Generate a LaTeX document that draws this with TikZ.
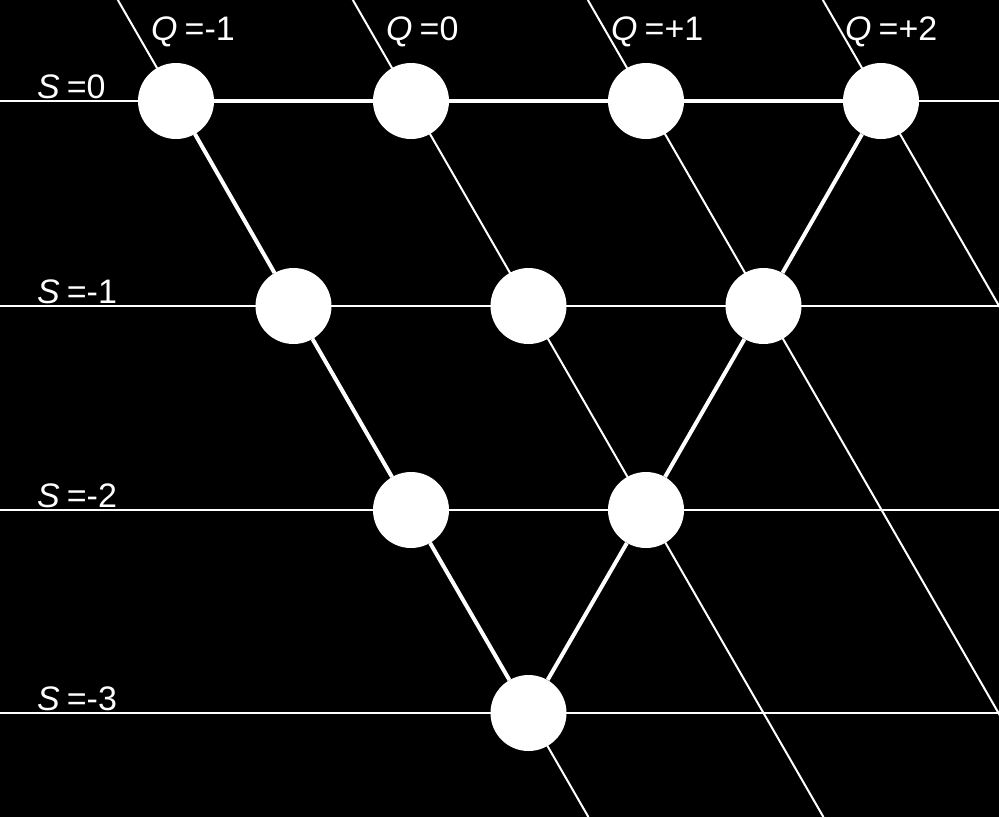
\documentclass[tikz,border=0pt]{standalone}
\usepackage{fontspec}
\setmainfont{Liberation Sans}
\begin{document}
\begin{tikzpicture}[x=1pt,y=-1pt,
  thinline/.style={draw=white,line width=2pt},
  thickline/.style={draw=white,line width=4pt},
  particle/.style={circle,fill=white,draw=none,minimum size=76pt,inner sep=0pt},
  lbl/.style={text=white,font=\fontsize{34}{38}\selectfont,inner sep=0pt,anchor=base west}]
\fill[black] (0,0) rectangle (999,817);
\useasboundingbox (0,0) rectangle (999,817);
\begin{scope}
\clip (0,0) rectangle (999,817);
% horizontal S lines
\foreach \y in {101,306,510,713} \draw[thinline] (0,\y) -- (999,\y);
% diagonal Q lines
\foreach \x in {176,411,646,881} \draw[thinline] (\x-58.17,0) -- (\x+412.4,817);
\end{scope}
% nodes
\node[particle] (a1) at (176,101) {};
\node[particle] (a2) at (411,101) {};
\node[particle] (a3) at (646,101) {};
\node[particle] (a4) at (881,101) {};
\node[particle] (b1) at (293.5,306) {};
\node[particle] (b2) at (528.5,306) {};
\node[particle] (b3) at (763.5,306) {};
\node[particle] (c1) at (411,510) {};
\node[particle] (c2) at (646,510) {};
\node[particle] (d1) at (528.5,713) {};
% thick triangle edges
\draw[thickline] (a1) -- (a2) -- (a3) -- (a4);
\draw[thickline] (a1) -- (b1) -- (c1) -- (d1);
\draw[thickline] (a4) -- (b3) -- (c2) -- (d1);
% labels
\node[lbl] (q1) at (151,40) {\itshape Q\hspace{7pt}\upshape=-1};
\node[lbl] (q2) at (386,40) {\itshape Q\hspace{7pt}\upshape=0};
\node[lbl] (q3) at (611,40) {\itshape Q\hspace{7pt}\upshape=+1};
\node[lbl] (q4) at (845,40) {\itshape Q\hspace{7pt}\upshape=+2};
\node[lbl] (s0) at (37,98) {\itshape S\hspace{7pt}\upshape=0};
\node[lbl] (s1) at (37,303) {\itshape S\hspace{7pt}\upshape=-1};
\node[lbl] (s2) at (37,507) {\itshape S\hspace{7pt}\upshape=-2};
\node[lbl] (s3) at (37,710) {\itshape S\hspace{7pt}\upshape=-3};
\end{tikzpicture}
\end{document}
